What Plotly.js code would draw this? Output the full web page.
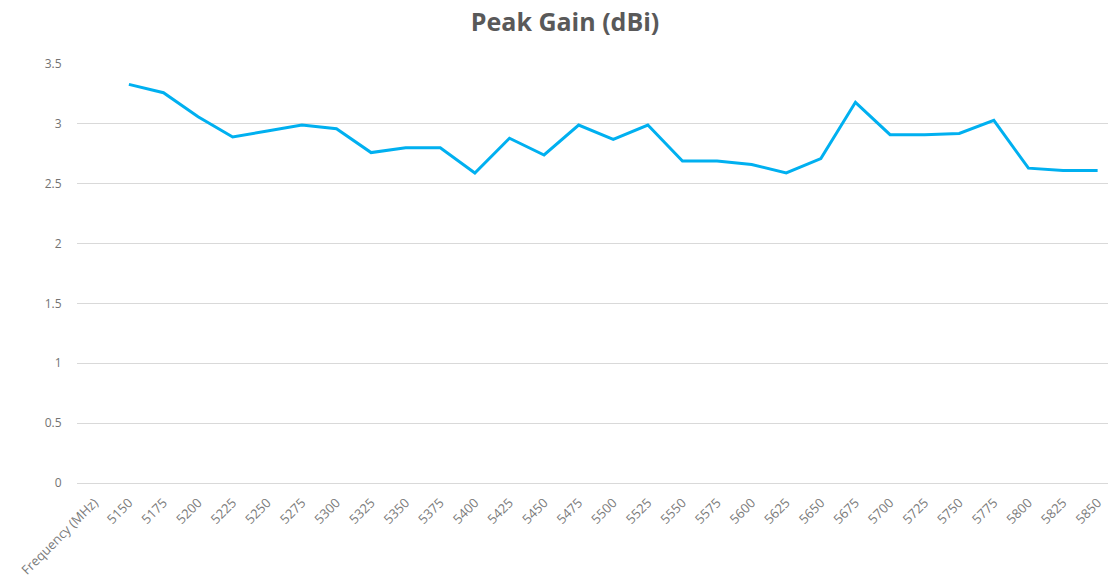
<!DOCTYPE html>
<html>
<head>
<meta charset="utf-8">
<script src="https://cdn.plot.ly/plotly-3.0.1.min.js"></script>
<style>html,body{margin:0;padding:0;background:#fff;}#chart{width:1108px;height:583px;}</style>
</head>
<body>
<div id="chart"></div>
<script>
const categories = ["Frequency (MHz)", "5150", "5175", "5200", "5225", "5250", "5275", "5300", "5325", "5350", "5375",
  "5400", "5425", "5450", "5475", "5500", "5525", "5550", "5575", "5600", "5625",
  "5650", "5675", "5700", "5725", "5750", "5775", "5800", "5825", "5850"];
const peakGain = [null, 3.33, 3.26, 3.06, 2.89, 2.94, 2.99, 2.96, 2.76, 2.80, 2.80,
  2.59, 2.88, 2.74, 2.99, 2.87, 2.99, 2.69, 2.69, 2.66, 2.59,
  2.71, 3.18, 2.91, 2.91, 2.92, 3.03, 2.63, 2.61, 2.61];
const titleText = "Peak Gain (dBi)";

const trace = {
  x: categories.map((c, i) => i),
  y: peakGain,
  type: 'scatter',
  mode: 'lines',
  line: {color: '#00B0F0', width: 3},
  connectgaps: false,
  hoverinfo: 'skip'
};

const layout = {
  width: 1108, height: 583,
  margin: {l: 77, r: 0, t: 64, b: 100},
  paper_bgcolor: '#ffffff', plot_bgcolor: '#ffffff',
  showlegend: false,
  title: {text: '<b>' + titleText + '</b>', x: 0.51, xanchor: 'center', y: 0.961, yanchor: 'middle',
    font: {family: '"Open Sans", sans-serif', size: 25, color: '#595959'}},
  xaxis: {
    type: 'linear',
    range: [-0.5, 29.3],
    tickmode: 'array',
    tickvals: categories.map((c, i) => i),
    ticktext: categories,
    tickangle: -45,
    showgrid: false, zeroline: false,
    showline: false,
    ticks: 'outside', ticklen: 6, tickcolor: 'rgba(0,0,0,0)',
    tickfont: {family: '"Open Sans", sans-serif', size: 13, color: '#7a7a7a'},
    fixedrange: true
  },
  yaxis: {
    range: [0, 3.5],
    dtick: 0.5,
    tick0: 0,
    showgrid: true, gridcolor: '#d9d9d9', gridwidth: 1,
    zeroline: true, zerolinecolor: '#d9d9d9', zerolinewidth: 1,
    showline: false,
    ticks: 'outside', ticklen: 12, tickcolor: 'rgba(0,0,0,0)',
    tickfont: {family: '"Open Sans", sans-serif', size: 12, color: '#737373'},
    fixedrange: true
  }
};

Plotly.newPlot('chart', [trace], layout, {displayModeBar: false, staticPlot: true});
</script>
</body>
</html>
